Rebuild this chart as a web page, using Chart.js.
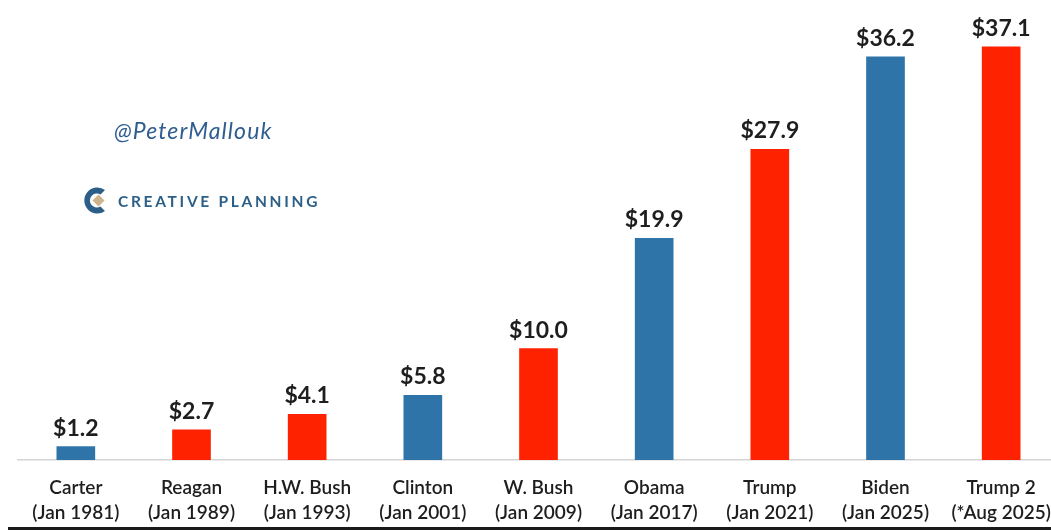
<!DOCTYPE html>
<html>
<head>
<meta charset="utf-8">
<script src="https://cdn.jsdelivr.net/npm/chart.js@4/dist/chart.umd.min.js"></script>
<style>
    html, body { margin: 0; padding: 0; background: #fff; overflow: hidden; }
    #debtChart { position: absolute; left: 0; top: 0; }
    #handle {
        position: absolute; left: 114px; top: 116px;
        font-family: Lato, sans-serif; font-style: italic; font-size: 23px;
        color: #2f5d90; letter-spacing: 1.1px;
    }
    #brand {
        position: absolute; left: 84px; top: 186px; display: flex; align-items: center;
    }
    #brand span {
        margin-left: 9px; font-family: Lato, sans-serif; font-weight: 700; font-size: 15.5px;
        color: #2c5f88; letter-spacing: 2.7px;
    }
    #rule { position: absolute; left: 8px; top: 527px; width: 1043px; height: 3px; background: #1a1a1a; }
</style>
</head>
<body>
<canvas id="debtChart" width="1059" height="530"></canvas>
<div id="handle">@PeterMallouk</div>
<div id="brand">
    <svg width="25" height="29" viewBox="0 0 25 29">
        <path d="M21 4 A13 13 0 1 0 21 25 L16.5 20.5 A7 7 0 1 1 16.5 8.5 Z" fill="#2c5f88"/>
        <path d="M14.5 8.5 L20.5 14.5 L14.5 20.5 L8.5 14.5 Z" fill="#cdb48c"/>
    </svg>
    <span>CREATIVE PLANNING</span>
</div>
<div id="rule"></div>
<script>
// Dívida federal (trilhões de US$) por presidente
var presidents = ['Carter', 'Reagan', 'H.W. Bush', 'Clinton', 'W. Bush', 'Obama', 'Trump', 'Biden', 'Trump 2'];
var dates = ['(Jan 1981)', '(Jan 1989)', '(Jan 1993)', '(Jan 2001)', '(Jan 2009)', '(Jan 2017)', '(Jan 2021)', '(Jan 2025)', '(*Aug 2025)'];
var debt = [1.2, 2.7, 4.1, 5.8, 10.0, 19.9, 27.9, 36.2, 37.1];
var party = ['D', 'R', 'R', 'D', 'R', 'D', 'R', 'D', 'R'];

var BLUE = '#2e74a8';
var RED = '#ff2200';

// rótulos de valor acima das barras
var valueLabels = {
    id: 'valueLabels',
    afterDatasetsDraw: function(chart) {
        var ctx = chart.ctx;
        var meta = chart.getDatasetMeta(0);
        ctx.save();
        ctx.font = 'bold 23px Lato, sans-serif';
        ctx.fillStyle = '#1e1e1e';
        ctx.textAlign = 'center';
        ctx.textBaseline = 'bottom';
        meta.data.forEach(function(bar, i) {
            ctx.fillText('$' + debt[i].toFixed(1), bar.x, bar.y - 7);
        });
        ctx.restore();
    }
};

var ctx = document.getElementById('debtChart').getContext('2d');
var chart = new Chart(ctx, {
    type: 'bar',
    data: {
        labels: presidents.map(function(p, i) { return [p, dates[i]]; }),
        datasets: [{
            data: debt,
            backgroundColor: party.map(function(p) { return p === 'D' ? BLUE : RED; }),
            barThickness: 38
        }]
    },
    options: {
        responsive: false,
        animation: false,
        devicePixelRatio: 1,
        layout: { padding: { left: 18, right: 0, top: 0, bottom: 0 } },
        plugins: { legend: { display: false }, tooltip: { enabled: false } },
        scales: {
            x: {
                grid: { display: false, drawTicks: false },
                border: { display: true, color: '#d4d4d4', width: 1.5 },
                ticks: {
                    color: '#1e1e1e',
                    padding: 15,
                    maxRotation: 0,
                    autoSkip: false,
                    font: { family: 'Lato, sans-serif', size: 19, weight: '600', lineHeight: 1.32 }
                },
                afterFit: function(scale) {
                    scale.height = 70;
                    scale.paddingLeft = 0;
                    scale.paddingRight = 0;
                }
            },
            y: {
                display: false,
                min: 0,
                max: 41.3
            }
        }
    },
    plugins: [valueLabels]
});
</script>
</body>
</html>
